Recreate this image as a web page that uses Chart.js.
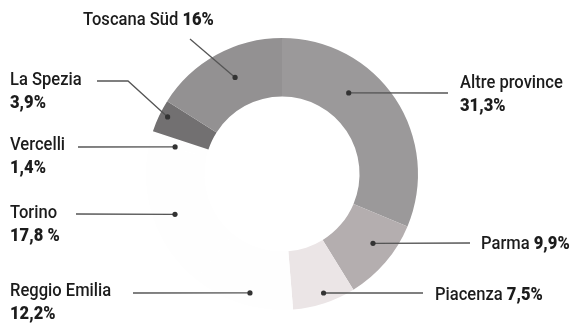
<!DOCTYPE html>
<html><head><meta charset="utf-8">
<script src="https://cdn.jsdelivr.net/npm/chart.js@4/dist/chart.umd.min.js"></script>
<style>html,body{margin:0;padding:0;background:#fff}#wrap{width:579px;height:325px;position:relative}</style>
</head><body><div id="wrap"><canvas id="c"></canvas></div>
<script>
const categories = ['Altre province','Parma','Piacenza','Reggio Emilia','Torino','Vercelli','La Spezia','Toscana Süd'];
const values = [31.3, 9.9, 7.5, 12.2, 17.8, 1.4, 3.9, 16];
const valueLabels = ['31,3%','9,9%','7,5%','12,2%','17,8 %','1,4%','3,9%','16%'];
const colors = ['#9b999a','#b4aeaf','#ebe5e6','#fefefe','#fefefe','#fefefe','#727071','#939192'];

// label placement (style/layout only)
const labelLayout = [
  {x:460, y:88,  two:true,  from:[448,93],  anchor:[0.35,0.47]},
  {x:481, y:249, two:false, from:[470,243], anchor:[0.41,0.63]},
  {x:435, y:300, two:false, from:[423,293], anchor:[0.46,0.83]},
  {x:10,  y:296, two:true,  from:[133,293], anchor:[0.45,0.78]},
  {x:10,  y:218, two:true,  from:[76,214],  anchor:[0.47,0.63]},
  {x:10,  y:150, two:true,  from:[78,147],  anchor:[0.18,0.56]},
  {x:10,  y:85,  two:true,  from:[97,81], via:[128,81], anchor:[0.58,0.86]},
  {x:83,  y:25,  two:false, from:[190,39],  anchor:[0.55,0.51]}
];
const SX = 0.92;
const FONT = 'Roboto, "Noto Sans", sans-serif';

function drawText(ctx, txt, x, y, bold){
  ctx.save();
  ctx.font = (bold ? '900 ' : '500 ') + '18px ' + FONT;
  ctx.translate(x, y);
  ctx.scale(SX, 1);
  ctx.fillText(txt, 0, 0);
  const w = ctx.measureText(txt).width * SX;
  ctx.restore();
  return w;
}

const labelPlugin = {
  id: 'leaderLabels',
  afterDraw(chart){
    const ctx = chart.ctx;
    const meta = chart.getDatasetMeta(0);
    ctx.save();
    meta.data.forEach((arc, i) => {
      const p = arc.getProps(['x','y','startAngle','endAngle','innerRadius','outerRadius'], true);
      const L = labelLayout[i];
      const a = p.startAngle + (p.endAngle - p.startAngle) * L.anchor[0];
      const r = p.innerRadius + (p.outerRadius - p.innerRadius) * L.anchor[1];
      const dx = p.x + Math.cos(a) * r, dy = p.y + Math.sin(a) * r;
      ctx.strokeStyle = '#555';
      ctx.lineWidth = 1.3;
      ctx.beginPath();
      ctx.moveTo(L.from[0], L.from[1]);
      if (L.via) ctx.lineTo(L.via[0], L.via[1]);
      ctx.lineTo(dx, dy);
      ctx.stroke();
      ctx.fillStyle = '#333';
      ctx.beginPath();
      ctx.arc(dx, dy, 2.6, 0, Math.PI * 2);
      ctx.fill();
      ctx.fillStyle = '#1c1c1c';
      ctx.textBaseline = 'alphabetic';
      if (L.two) {
        drawText(ctx, categories[i], L.x, L.y, false);
        drawText(ctx, valueLabels[i], L.x, L.y + 23, true);
      } else {
        const w = drawText(ctx, categories[i] + ' ', L.x, L.y, false);
        drawText(ctx, valueLabels[i], L.x + w, L.y, true);
      }
    });
    ctx.restore();
  }
};

new Chart(document.getElementById('c'), {
  type: 'doughnut',
  data: {
    labels: categories,
    datasets: [{ data: values, backgroundColor: colors, borderWidth: 0 }]
  },
  options: {
    responsive: true,
    maintainAspectRatio: false,
    animation: false,
    cutout: '57%',
    layout: { padding: { top: 38, bottom: 15, left: 0, right: 15 } },
    plugins: { legend: { display: false }, tooltip: { enabled: false } }
  },
  plugins: [labelPlugin]
});
</script>
</body></html>
